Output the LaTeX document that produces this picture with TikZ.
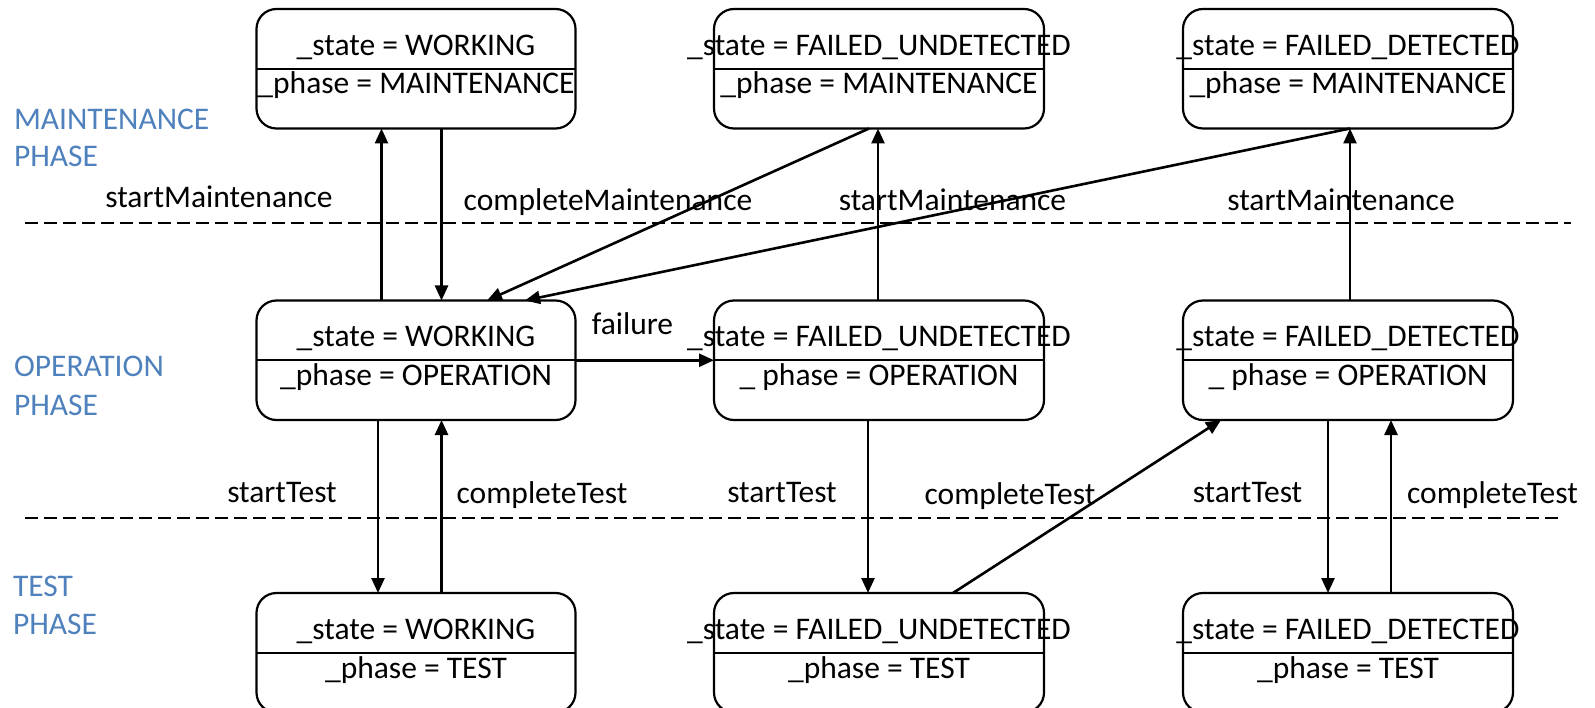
\documentclass[tikz,border=0pt]{standalone}
\usepackage{fontspec}
\setmainfont{Carlito}
\usetikzlibrary{arrows.meta}
\definecolor{phaseblue}{RGB}{79,129,189}
\begin{document}
\begin{tikzpicture}[x=1pt,y=-1pt,
  every node/.style={font=\fontsize{31.5}{38}\selectfont, inner sep=0pt, outer sep=0pt},
  statebox/.style={draw, line width=2.2pt, rounded corners=20pt, minimum height=119.5pt},
  narrowbox/.style={statebox, minimum width=319pt},
  widebox/.style={statebox, minimum width=330pt},
  divider/.style={line width=2pt},
  arr/.style={line width=2.6pt, -{Triangle[length=15pt,width=13pt]}},
  sep/.style={line width=2pt, dash pattern=on 13pt off 6pt},
  phaselabel/.style={text=phaseblue, anchor=base west},
  evlabel/.style={anchor=base}
]
\useasboundingbox (0,0) rectangle (1595,708);

% phase separators
\coordinate (sepA1) at (25,223);   \coordinate (sepA2) at (1571,223);
\coordinate (sepB1) at (25,517.5); \coordinate (sepB2) at (1562,517.5);
\draw[sep] (sepA1) -- (sepA2);
\draw[sep] (sepB1) -- (sepB2);

% phase names
\node[phaselabel] (pm1) at (14,129.5) {MAINTENANCE};
\node[phaselabel] (pm2) at (14,167) {PHASE};
\node[phaselabel] (po1) at (14,377) {OPERATION};
\node[phaselabel] (po2) at (14,415.5) {PHASE};
\node[phaselabel] (pt1) at (13,596) {TEST};
\node[phaselabel] (pt2) at (13,634) {PHASE};

% state boxes
\node[narrowbox] (m1) at (416,68.75) {};
\node[widebox]   (m2) at (879,68.75) {};
\node[widebox]   (m3) at (1348,68.75) {};
\node[narrowbox] (o1) at (416,360.25) {};
\node[widebox]   (o2) at (879,360.25) {};
\node[widebox]   (o3) at (1348,360.25) {};
\node[narrowbox] (t1) at (416,652.75) {};
\node[widebox]   (t2) at (879,652.75) {};
\node[widebox]   (t3) at (1348,652.75) {};

\foreach \b in {m1,m2,m3,o1,o2,o3,t1,t2,t3}
  \draw[divider] (\b.west) -- (\b.east);

% box contents
\node[anchor=base] (m1s) at ([yshift=13.5pt]m1.center) {\_state = WORKING};
\node[anchor=base] (m1p) at ([yshift=-25.25pt]m1.center) {\_phase = MAINTENANCE};
\node[anchor=base] (m2s) at ([yshift=13.5pt]m2.center) {\_state = FAILED\_UNDETECTED};
\node[anchor=base] (m2p) at ([yshift=-25.25pt]m2.center) {\_phase = MAINTENANCE};
\node[anchor=base] (m3s) at ([yshift=13.5pt]m3.center) {\_state = FAILED\_DETECTED};
\node[anchor=base] (m3p) at ([yshift=-25.25pt]m3.center) {\_phase = MAINTENANCE};

\node[anchor=base] (o1s) at ([yshift=13.5pt]o1.center) {\_state = WORKING};
\node[anchor=base] (o1p) at ([yshift=-25.25pt]o1.center) {\_phase = OPERATION};
\node[anchor=base] (o2s) at ([yshift=13.5pt]o2.center) {\_state = FAILED\_UNDETECTED};
\node[anchor=base] (o2p) at ([yshift=-25.25pt]o2.center) {\_ phase = OPERATION};
\node[anchor=base] (o3s) at ([yshift=13.5pt]o3.center) {\_state = FAILED\_DETECTED};
\node[anchor=base] (o3p) at ([yshift=-25.25pt]o3.center) {\_ phase = OPERATION};

\node[anchor=base] (t1s) at ([yshift=13.5pt]t1.center) {\_state = WORKING};
\node[anchor=base] (t1p) at ([yshift=-25.25pt]t1.center) {\_phase = TEST};
\node[anchor=base] (t2s) at ([yshift=13.5pt]t2.center) {\_state = FAILED\_UNDETECTED};
\node[anchor=base] (t2p) at ([yshift=-25.25pt]t2.center) {\_phase = TEST};
\node[anchor=base] (t3s) at ([yshift=13.5pt]t3.center) {\_state = FAILED\_DETECTED};
\node[anchor=base] (t3p) at ([yshift=-25.25pt]t3.center) {\_phase = TEST};

% transitions between maintenance and operation
\draw[arr] ([xshift=-34.5pt]o1.north) -- ([xshift=-34.5pt]m1.south);
\draw[arr] ([xshift=25.5pt]m1.south) -- ([xshift=25.5pt]o1.north);
\draw[arr] ([xshift=-10pt]m2.south) -- ([xshift=71pt]o1.north);
\draw[arr] ([xshift=2pt]m3.south) -- ([xshift=109pt]o1.north);
\draw[arr] ([xshift=-1pt]o2.north) -- ([xshift=-1pt]m2.south);
\draw[arr] ([xshift=2pt]o3.north) -- ([xshift=2pt]m3.south);

% failure
\draw[arr] (o1.east) -- (o2.west);

% transitions between operation and test
\draw[arr] ([xshift=-38pt]o1.south) -- ([xshift=-38pt]t1.north);
\draw[arr] ([xshift=25.5pt]t1.north) -- ([xshift=25.5pt]o1.south);
\draw[arr] ([xshift=-11pt]o2.south) -- ([xshift=-11pt]t2.north);
\draw[arr] ([xshift=74pt]t2.north) -- ([xshift=-127pt]o3.south);
\draw[arr] ([xshift=-20pt]o3.south) -- ([xshift=-20pt]t3.north);
\draw[arr] ([xshift=43pt]t3.north) -- ([xshift=43pt]o3.south);

% event labels
\node[evlabel] (e1)  at (219,207.5)    {startMaintenance};
\node[evlabel] (e2)  at (608,210.5)    {completeMaintenance};
\node[evlabel] (e3)  at (952.5,210.5)  {startMaintenance};
\node[evlabel] (e4)  at (1341,210.5)   {startMaintenance};
\node[evlabel] (e5)  at (632.5,335)    {failure};
\node[evlabel] (e6)  at (282,502.5)    {startTest};
\node[evlabel] (e7)  at (542,503.5)    {completeTest};
\node[evlabel] (e8)  at (782,502.5)    {startTest};
\node[evlabel] (e9)  at (1010,504.5)   {completeTest};
\node[evlabel] (e10) at (1247.5,502)   {startTest};
\node[evlabel] (e11) at (1492.5,503)   {completeTest};
\end{tikzpicture}
\end{document}
